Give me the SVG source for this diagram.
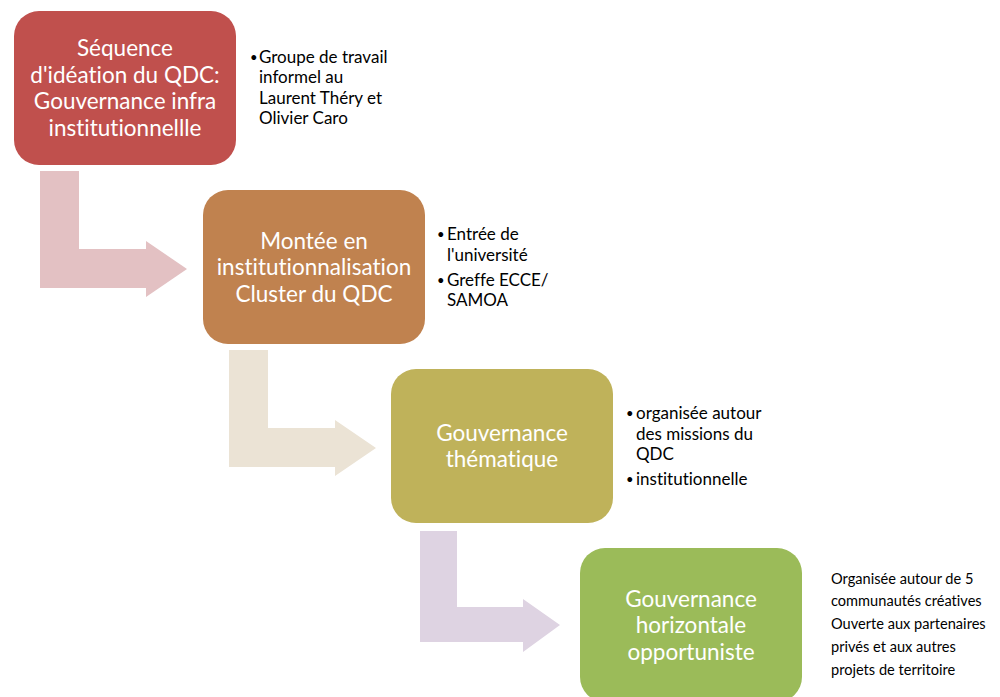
<svg xmlns="http://www.w3.org/2000/svg" width="1000" height="697" viewBox="0 0 1000 697">
<style>
text{font-variant-ligatures:none}
.box text{font-family:Lato,"Open Sans",sans-serif;font-size:22.5px;fill:#fff;text-anchor:middle}
.note{font-family:Lato,"Open Sans",sans-serif;font-size:17px;fill:#000}
.note .b{font-size:13px}
.note2{font-family:Lato,"Open Sans",sans-serif;font-size:14.6px;fill:#000}
</style>
<rect width="1000" height="697" fill="#fff"/>
<g id="connectors">
<path d="M40,171 H79 V249 H146 V241 L187,269 L146,297 V288 H40 Z" fill="#E3C1C3"/>
<path d="M229,350 H268 V428 H335 V420 L376,448 L335,476 V467 H229 Z" fill="#EBE3D5"/>
<path d="M420,531 H457 V607 H523 V599 L560,625 L523,652 V642 H420 Z" fill="#DED3E2"/>
</g>
<g id="node1" class="box">
<rect x="14" y="11" width="222" height="154" rx="25" fill="#C0504D"/>
<text x="125" y="56">Séquence</text>
<text x="125" y="83">d'idéation du QDC:</text>
<text x="125" y="109">Gouvernance infra</text>
<text x="125" y="136">institutionnellle</text>
</g>
<g id="note1" class="note">
<text class="b" x="250" y="62">•</text>
<text x="259" y="63">Groupe de travail</text>
<text x="259" y="83">informel au</text>
<text x="259" y="104">Laurent Théry et</text>
<text x="259" y="124">Olivier Caro</text>
</g>
<g id="node2" class="box">
<rect x="203" y="190" width="222" height="154" rx="25" fill="#C0824F"/>
<text x="314" y="249">Montée en</text>
<text x="314" y="275">institutionnalisation</text>
<text x="314" y="302">Cluster du QDC</text>
</g>
<g id="note2" class="note">
<text class="b" x="437" y="239">•</text>
<text x="447" y="240">Entrée de</text>
<text x="447" y="261">l'université</text>
<text class="b" x="437" y="285">•</text>
<text x="447" y="286">Greffe ECCE/</text>
<text x="447" y="306">SAMOA</text>
</g>
<g id="node3" class="box">
<rect x="391" y="369" width="222" height="154" rx="25" fill="#BFB25A"/>
<text x="502" y="441">Gouvernance</text>
<text x="502" y="467">thématique</text>
</g>
<g id="note3" class="note">
<text class="b" x="626" y="418">•</text>
<text x="636" y="419">organisée autour</text>
<text x="636" y="440">des missions du</text>
<text x="636" y="460">QDC</text>
<text class="b" x="626" y="484">•</text>
<text x="636" y="485">institutionnelle</text>
</g>
<g id="node4" class="box">
<rect x="580" y="548" width="222" height="154" rx="25" fill="#9BBB59"/>
<text x="691" y="607">Gouvernance</text>
<text x="691" y="633">horizontale</text>
<text x="691" y="660">opportuniste</text>
</g>
<g id="note4" class="note2">
<text x="831" y="584">Organisée autour de 5</text>
<text x="831" y="606">communautés créatives</text>
<text x="831" y="629">Ouverte aux partenaires</text>
<text x="831" y="652">privés et aux autres</text>
<text x="831" y="675">projets de territoire</text>
</g>
</svg>
